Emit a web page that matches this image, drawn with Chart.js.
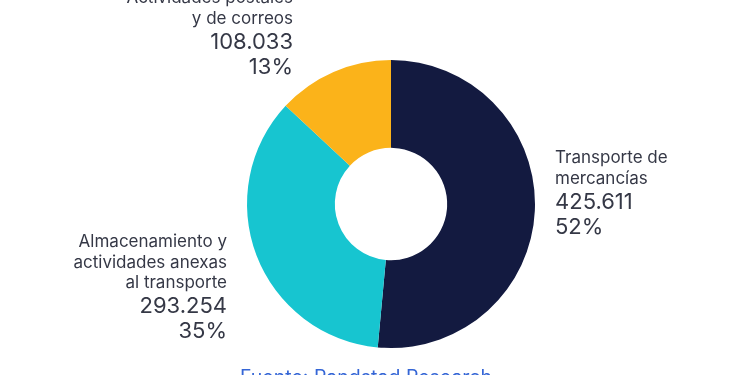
<!DOCTYPE html>
<html>
<head>
<meta charset="utf-8">
<script src="https://cdn.jsdelivr.net/npm/chart.js@4"></script>
<style>
html,body{margin:0;padding:0;background:#fff;}
#wrap{width:750px;height:375px;position:relative;}
</style>
</head>
<body>
<div id="wrap"><canvas id="c" width="750" height="375"></canvas></div>
<script>
const categories = ["Transporte de mercancías", "Almacenamiento y actividades anexas al transporte", "Actividades postales y de correos"];
const labelLines = [["Transporte de", "mercancías"], ["Almacenamiento y", "actividades anexas", "al transporte"], ["Actividades postales", "y de correos"]];
const values = [425611, 293254, 108033];
const valueLabels = ["425.611", "293.254", "108.033"];
const percentLabels = ["52%", "35%", "13%"];
const colors = ["#131a40", "#17c5d0", "#fbb31a"];
const sourceText = "Fuente: Randstad Research";

const FONT = "Inter, 'Noto Sans', sans-serif";
const TEXT = "#353846";

// layout of each label block: anchor x, first line center y, alignment
const labelLayout = [
  {x: 555, y: 158, align: "left"},
  {x: 227, y: 242, align: "right"},
  {x: 293, y: -2, align: "right"}
];

const labelPlugin = {
  id: "labels",
  afterDraw(chart) {
    const ctx = chart.ctx;
    ctx.save();
    ctx.fillStyle = TEXT;
    ctx.textBaseline = "middle";
    labelLines.forEach((lines, i) => {
      const L = labelLayout[i];
      ctx.textAlign = L.align;
      let y = L.y;
      ctx.font = "17px " + FONT;
      lines.forEach(t => { ctx.fillText(t, L.x, y); y += 20.5; });
      y += 3;
      ctx.font = "22px " + FONT;
      ctx.fillText(valueLabels[i], L.x, y);
      y += 25;
      ctx.fillText(percentLabels[i], L.x, y);
    });
    ctx.textAlign = "center";
    ctx.textBaseline = "alphabetic";
    ctx.fillStyle = "#3566d6";
    ctx.font = "19.5px " + FONT;
    ctx.fillText(sourceText, 366, 384);
    ctx.restore();
  }
};

new Chart(document.getElementById("c"), {
  type: "doughnut",
  data: {
    labels: categories,
    datasets: [{
      data: values,
      backgroundColor: colors,
      borderWidth: 0,
      hoverOffset: 0
    }]
  },
  options: {
    responsive: false,
    animation: false,
    cutout: "39%",
    layout: {padding: {left: 247, right: 215, top: 60, bottom: 27}},
    plugins: {legend: {display: false}, tooltip: {enabled: false}},
    events: []
  },
  plugins: [labelPlugin]
});
</script>
</body>
</html>
